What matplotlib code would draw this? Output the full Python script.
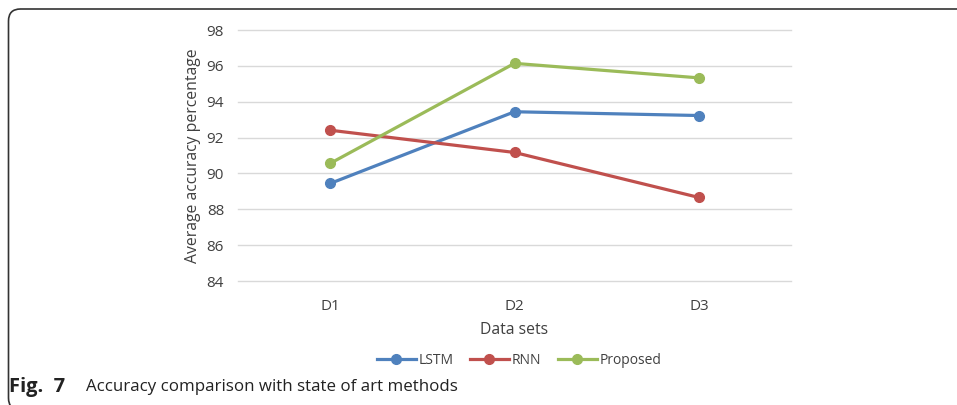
import matplotlib.pyplot as plt
from matplotlib.patches import FancyBboxPatch
from matplotlib.lines import Line2D

# data
datasets = ['D1', 'D2', 'D3']
lstm = [89.44, 93.44, 93.23]
rnn = [92.41, 91.17, 88.66]
proposed = [90.56, 96.14, 95.33]
yticks = [84, 86, 88, 90, 92, 94, 96, 98]

series = [('LSTM', lstm, '#4F81BD'),
          ('RNN', rnn, '#C0504D'),
          ('Proposed', proposed, '#9BBB59')]

plt.rcParams['font.family'] = ['Open Sans', 'DejaVu Sans']
txt = '#404040'

fig = plt.figure(figsize=(9.57, 4.05), dpi=100)

#rounded frame around the figure (cut off on the right and bottom)
frame = FancyBboxPatch((0.085, -0.05), 11.0, 4.01,
                       boxstyle='round,pad=0,rounding_size=0.12',
                       transform=fig.dpi_scale_trans, fill=False,
                       edgecolor='#333333', linewidth=1.2, clip_on=False)
fig.patches.append(frame)

ax = fig.add_axes([238 / 957, 1 - 281 / 405, (791 - 238) / 957, (281 - 30) / 405])

x = list(range(len(datasets)))
for name, vals, col in series:
    ax.plot(x, vals, color=col, linewidth=2.3, marker='o', markersize=7, label=name)

ax.set_xlim(-0.5, 2.5)
ax.set_ylim(84, 98)
ax.set_yticks(yticks)
ax.set_xticks(x)
ax.set_xticklabels(datasets)
ax.grid(axis='y', color='#D9D9D9', linewidth=1)
for gl in ax.get_ygridlines():
    gl.set_clip_on(False)
ax.set_axisbelow(True)
for s in ax.spines.values():
    s.set_visible(False)
ax.tick_params(length=0, labelsize=11, colors=txt, pad=10)
ax.tick_params(axis='x', pad=13)

ax.set_ylabel('Average accuracy percentage', fontsize=11.3, color=txt, labelpad=4)
ax.set_xlabel('Data sets', fontsize=11.3, color=txt, labelpad=6)

handles = [Line2D([], [], color=c, linewidth=2.3, marker='o', markersize=7) for _, _, c in series]
fig.legend(handles, [n for n, _, _ in series], loc='center', bbox_to_anchor=(519 / 957, 1 - 360 / 405),
           ncol=3, frameon=False, fontsize=10, handlelength=2.8, handletextpad=0.2,
           columnspacing=1.2, labelcolor=txt)

#caption
fig.text(9 / 957, 1 - 387 / 405, 'Fig.  7', fontsize=14.5, fontweight='bold', color='#222222', va='center')
fig.text(86 / 957, 1 - 387 / 405, 'Accuracy comparison with state of art methods', fontsize=12.2,
         color='#222222', va='center')

fig.savefig('out.png', dpi=100)
